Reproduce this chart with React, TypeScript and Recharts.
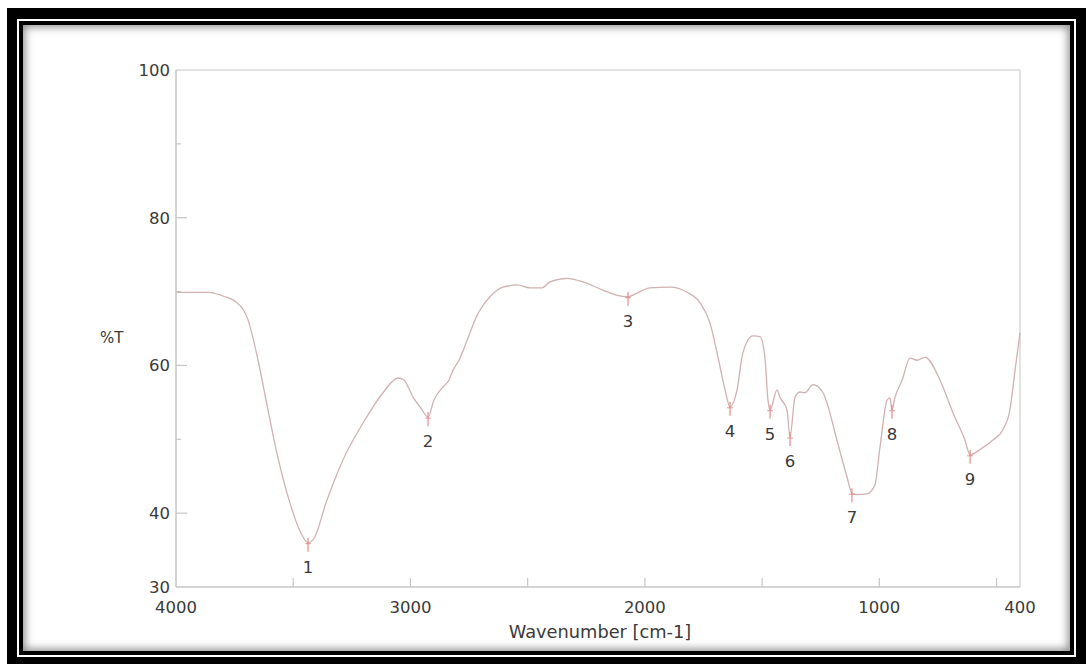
import React from 'react';
import { ComposedChart, Line, XAxis, YAxis, ReferenceLine, ReferenceDot } from 'recharts';

const wavenumbers = [4000, 3930, 3859, 3800, 3744, 3693, 3650, 3616, 3573, 3518, 3467, 3437, 3411, 3360, 3288, 3202, 3117, 3053, 3027, 2989, 2955, 2925, 2900, 2861, 2836, 2818, 2793, 2763, 2720, 2703, 2661, 2605, 2545, 2490, 2439, 2405, 2332, 2264, 2179, 2119, 2072, 2034, 1978, 1893, 1820, 1765, 1722, 1688, 1658, 1637, 1607, 1582, 1539, 1509, 1488, 1475, 1466, 1436, 1424, 1394, 1381, 1360, 1338, 1317, 1283, 1240, 1223, 1181, 1138, 1117, 1095, 1053, 1019, 997, 967, 955, 946, 933, 903, 869, 839, 805, 741, 686, 635, 613, 571, 515, 473, 443, 421, 400];
const transmittance = [69.9, 69.9, 69.9, 69.4, 68.6, 66.2, 60.7, 55.3, 48.6, 41.8, 37.3, 36.0, 36.6, 41.4, 47.2, 52.2, 56.3, 58.3, 58.0, 55.7, 54.2, 53.0, 55.3, 57.1, 58.0, 59.4, 60.7, 63.0, 66.5, 67.5, 69.3, 70.6, 70.9, 70.5, 70.5, 71.3, 71.8, 71.3, 70.2, 69.5, 69.3, 69.8, 70.5, 70.6, 69.9, 68.5, 65.7, 61.1, 56.7, 54.4, 56.7, 61.7, 64.0, 63.9, 61.1, 55.3, 54.0, 56.7, 55.7, 54.0, 50.3, 55.7, 56.4, 56.3, 57.4, 56.3, 54.9, 49.9, 44.9, 42.7, 42.5, 42.6, 43.8, 49.0, 55.3, 55.6, 54.0, 55.7, 58.0, 61.0, 60.7, 61.1, 58.0, 53.6, 49.9, 47.9, 48.6, 49.9, 51.3, 54.0, 59.4, 64.4];

const peakLabels = ['1', '2', '3', '4', '5', '6', '7', '8', '9'];
const peakWavenumbers = [3437, 2925, 2072, 1637, 1466, 1381, 1117, 946, 613];
const peakTransmittance = [36.0, 53.0, 69.3, 54.4, 54.0, 50.3, 42.7, 54.0, 47.9];

const xTicks = [4000, 3500, 3000, 2500, 2000, 1500, 1000, 500, 400];
const xTickLabels = [4000, 3000, 2000, 1000, 400];
const yTicks = [30, 40, 50, 60, 70, 80, 90, 100];
const yTickLabels = [30, 40, 60, 80, 100];
const yMajorTicks = [40, 60, 80];
const yMinorTicks = [50, 70, 90];

const data = wavenumbers.map((w, i) => ({ w, t: transmittance[i] }));

const FONT = '"DejaVu Sans", sans-serif';
const TEXT = '#3a3a3a';
const AXIS = '#c6c6c6';
const CURVE = '#d1b1b1';
const MARK = '#e58080';

const YTick = (props: any) => {
  const { x, y, payload } = props;
  const v = payload.value;
  return (
    <g>
      {yTickLabels.includes(v) && (
        <text x={x} y={y} dy="0.36em" textAnchor="end" fontFamily={FONT} fontSize={16.5} fill={TEXT}>
          {v}
        </text>
      )}
      {yMajorTicks.includes(v) && <line x1={x + 6} x2={x + 17} y1={y} y2={y} stroke={AXIS} strokeWidth={1.2} />}
      {yMinorTicks.includes(v) && <line x1={x + 6} x2={x + 11} y1={y} y2={y} stroke={AXIS} strokeWidth={1.2} />}
    </g>
  );
};

const XTick = (props: any) => {
  const { x, y, payload } = props;
  const v = payload.value;
  const showLine = v !== 4000 && v !== 400;
  return (
    <g>
      {xTickLabels.includes(v) && (
        <text x={x} y={y} dy="0.72em" textAnchor="middle" fontFamily={FONT} fontSize={16.5} fill={TEXT}>
          {v}
        </text>
      )}
      {showLine && <line x1={x} x2={x} y1={y - 14} y2={y - 23} stroke={AXIS} strokeWidth={1.2} />}
    </g>
  );
};

const PeakMark = (label: string) => (props: any) => {
  const { cx, cy } = props;
  return (
    <g>
      <line x1={cx} x2={cx} y1={cy - 5} y2={cy + 9} stroke={MARK} strokeWidth={1.1} />
      <line x1={cx - 3} x2={cx + 3} y1={cy + 1} y2={cy + 1} stroke={MARK} strokeWidth={0.8} />
      <text x={cx} y={cy + 24} dy="0.36em" textAnchor="middle" fontFamily={FONT} fontSize={16.5} fill={TEXT}>
        {label}
      </text>
    </g>
  );
};

export default function App() {
  return (
    <div style={{ position: 'fixed', left: 0, top: 0, width: 1086, height: 664, background: '#fff', overflow: 'hidden' }}>
      <div style={{ position: 'absolute', left: 7, top: 8, width: 1079, height: 656, background: '#000' }} />
      <div style={{ position: 'absolute', left: 17, top: 19, width: 1059, height: 638, background: '#fff' }} />
      <div style={{ position: 'absolute', left: 19, top: 21, width: 1055, height: 634, background: '#000' }} />
      <div
        style={{
          position: 'absolute',
          left: 23,
          top: 25,
          width: 1047,
          height: 626,
          background: '#fff',
          boxShadow: 'inset 0 0 9px 2px rgba(0,0,0,0.45)',
        }}
      />
      <div style={{ position: 'absolute', left: 0, top: 0 }}>
        <ComposedChart width={1086} height={664} data={data} margin={{ top: 70, right: 66, bottom: 47, left: 116 }}>
          <XAxis
            dataKey="w"
            type="number"
            domain={[400, 4000]}
            reversed
            ticks={xTicks}
            interval={0}
            tickSize={0}
            tickMargin={14}
            height={30}
            axisLine={{ stroke: AXIS, strokeWidth: 1.5 }}
            tickLine={false}
            tick={XTick}
            label={{
              content: (p: any) => {
                const vb = p.viewBox;
                return (
                  <text x={vb.x + vb.width / 2 + 2} y={vb.y + 45} dy="0.36em" textAnchor="middle" fontFamily={FONT} fontSize={17.8} fill={TEXT}>
                    Wavenumber [cm-1]
                  </text>
                );
              },
            }}
          />
          <YAxis
            type="number"
            domain={[30, 100]}
            ticks={yTicks}
            interval={0}
            width={60}
            tickSize={0}
            tickMargin={6}
            axisLine={{ stroke: AXIS, strokeWidth: 1.5 }}
            tickLine={false}
            tick={YTick}
            label={{
              content: (p: any) => {
                const vb = p.viewBox;
                return (
                  <text x={vb.x - 16} y={vb.y + vb.height / 2 + 9} dy="0.36em" textAnchor="start" fontFamily={FONT} fontSize={15} fill={TEXT}>
                    %T
                  </text>
                );
              },
            }}
          />
          <ReferenceLine y={100} stroke="#d8d8d8" strokeWidth={1.5} />
          <ReferenceLine x={400} stroke="#d8d8d8" strokeWidth={1.5} />
          <Line type="monotone" dataKey="t" stroke={CURVE} strokeWidth={1.3} dot={false} isAnimationActive={false} />
          {peakLabels.map((lab, i) => (
            <ReferenceDot key={lab} x={peakWavenumbers[i]} y={peakTransmittance[i]} r={3} shape={PeakMark(lab)} />
          ))}
        </ComposedChart>
      </div>
    </div>
  );
}
